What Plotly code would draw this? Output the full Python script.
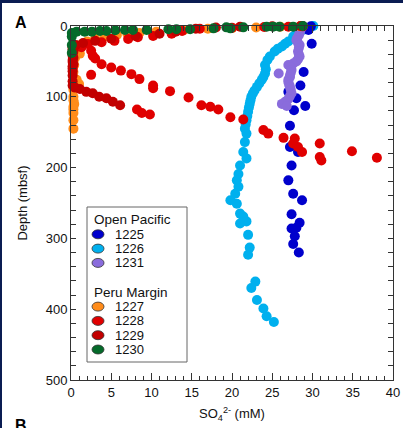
import plotly.graph_objects as go

# ---------------- data (SO4 mM, depth mbsf) ----------------
names = ["1225", "1226", "1231", "1227", "1228", "1229", "1230"]
groups = ["Open Pacific", "Open Pacific", "Open Pacific",
          "Peru Margin", "Peru Margin", "Peru Margin", "Peru Margin"]
colors = ["#0000cc", "#00b0ee", "#8a6cdc", "#ff8c1a", "#e00000", "#c20000", "#056a2a"]

so4_1225 = [29.8, 29.5, 29.9, 28.9, 28.5, 27.0, 28.0, 29.1, 27.7, 27.2, 27.2, 28.2,
            27.4, 27.0, 27.6, 28.7, 27.4, 28.4, 28.0, 27.4, 27.8, 27.6, 28.3]
dep_1225 = [0.5, 5.7, 25, 65, 84, 93, 102, 113, 119, 141, 171, 178,
            197, 218, 237, 246, 266, 278, 285, 286, 297, 308, 320]

so4_1226 = [30.1, 29.5, 29.0, 28.4, 28.0, 27.6, 27.0, 26.6, 26.2, 25.7, 25.3, 24.7,
            24.4, 24.1, 24.2, 24.1, 23.9, 23.7, 23.4, 23.1, 22.8, 22.6, 22.4, 22.3,
            22.2, 22.1, 22.0, 21.9, 21.8, 21.7, 21.6, 21.8, 21.6, 21.4, 21.8, 21.0,
            20.8, 20.6, 20.8, 20.4, 19.8, 20.6, 21.0, 21.4, 21.8, 21.0, 22.0, 22.2,
            22.0, 22.9, 22.4, 23.1, 23.9, 24.3, 25.2]
dep_1226 = [0, 3, 5, 8, 11, 15, 22, 25, 29, 32, 36, 43,
            48, 55, 61, 67, 72, 76, 81, 86, 91, 95, 100, 105,
            110, 115, 121, 127, 133, 139, 145, 152, 164, 178, 187, 197,
            209, 218, 227, 237, 246, 251, 265, 269, 276, 279, 295, 313,
            323, 361, 370, 387, 399, 410, 418]

so4_1231 = [28.8, 28.6, 28.5, 28.4, 28.3, 28.1, 28.0, 28.2, 28.4, 28.3, 28.2, 28.3,
            28.4, 28.2, 28.0, 27.6, 27.0, 27.3, 27.4, 27.3, 27.2, 27.2, 27.0, 27.0,
            27.1, 27.2, 27.3, 27.4, 27.2, 27.0, 26.6, 26.2, 26.8, 25.8]
dep_1231 = [0, 3, 6, 10, 13, 17, 20, 24, 27, 31, 36, 40,
            43, 47, 50, 53, 55, 58, 62, 66, 70, 72, 76, 79,
            83, 86, 90, 95, 99, 103, 107, 110, 113, 67]

so4_1227 = [28.5, 26.0, 23.0, 20.0, 17.0, 14.0, 10.6, 8.5, 7.0, 5.7, 4.2, 3.0,
            2.0, 1.3, 0.9, 1.1, 0.7, 0.5, 0.4, 0.3, 0.7, 1.0, 0.3, 0.3,
            0.3, 0.4, 0.3, 0.3, 0.3, 0.3, 0.3]
dep_1227 = [0.5, 1, 2, 3, 4, 6, 8, 10, 11, 12.7, 15, 18,
            22, 26, 30, 39, 36, 45, 55, 65, 76, 82, 90, 100,
            105, 110, 114, 118, 123, 133, 145]

so4_1228 = [28.8, 27.0, 24.0, 20.0, 16.0, 13.8, 12.5, 10.2, 8.3, 7.1, 5.4, 3.8,
            2.1, 1.3, 2.5, 2.7, 3.0, 3.8, 5.0, 6.2, 7.5, 8.5, 10.2, 10.2,
            12.3, 14.6, 16.2, 17.3, 18.3, 19.8, 21.4, 23.9, 24.5, 26.4, 27.8, 27.6,
            28.2, 28.7, 30.9, 30.9, 31.1, 34.9, 38.0, 2.5, 8.2, 8.8, 9.8]
dep_1228 = [0.5, 1, 1.5, 2.5, 4, 7, 11, 14, 16, 18.4, 21, 23,
            25.5, 30, 35, 42, 46, 54, 58.6, 63, 68, 75, 84, 88,
            92, 101, 112, 114, 118, 129, 132, 147, 152, 158, 159, 166,
            171, 178, 166, 185, 190, 177, 186, 69, 118, 123, 125]

so4_1229 = [28.5, 25.0, 21.0, 18.0, 15.5, 13.0, 11.0, 8.0, 5.0, 3.0, 1.5, 0.6,
            0.2, 0.2, 0.3, 0.2, 0.2, 0.3, 0.2, 0.2, 0.3, 0.2, 0.2, 0.2,
            0.2, 0.2, 0.2, 0.5, 1.1, 1.9, 2.7, 3.5, 4.4, 5.2, 6.1]
dep_1229 = [0, 0.5, 1, 2, 4, 8, 11, 14, 18, 21, 24, 27,
            30, 33, 36, 39, 42, 45, 48, 51, 54, 57, 60, 64,
            70, 78, 84, 87, 89, 93, 95, 100, 102, 107, 112]

so4_1230 = [0.1, 0.1, 0.1, 0.1, 0.7, 1.7, 2.6, 3.6, 4.4, 5.5, 6.7, 7.7,
            9.4, 12.1, 13.1, 14.8, 17.7, 19.3, 19.8, 21.4, 24.3, 25.1, 25.9, 27.6, 28.8]
dep_1230 = [38, 27, 15, 10, 8, 8, 8, 7, 7, 6, 5.7, 5.7,
            5.7, 4.7, 4.7, 4.7, 3.3, 1.9, 3.3, 1.9, 0.9, 0.9, 0.9, 0.9, 0]

series_x = [so4_1225, so4_1226, so4_1231, so4_1227, so4_1228, so4_1229, so4_1230]
series_y = [dep_1225, dep_1226, dep_1231, dep_1227, dep_1228, dep_1229, dep_1230]

x_ticks = [0, 5, 10, 15, 20, 25, 30, 35, 40]
y_ticks = [0, 100, 200, 300, 400, 500]

# ---------------- figure ----------------
W, H = 403, 428
L, R, T, B = 71, 10, 26, 48
PW, PH = W - L - R, H - T - B
FONT = "Liberation Sans, Arial, Helvetica, sans-serif"
NAVY = "#0a1c52"


def px2x(px):
    return (px - L) / PW


def py2y(py):
    return (T + PH - py) / PH


fig = go.Figure()
draw_order = [1, 0, 2, 3, 4, 5, 6]
for i in draw_order:
    fig.add_trace(go.Scatter(
        x=series_x[i], y=series_y[i], mode="markers", name=names[i],
        marker=dict(size=10, color=colors[i], line=dict(width=0)),
        cliponaxis=False, showlegend=False,
    ))

axis_common = dict(
    showgrid=False, zeroline=False, showline=True, linecolor="#333333", linewidth=1,
    mirror="allticks", ticks="inside", tickcolor="#333333", tickwidth=1,
    tickfont=dict(family=FONT, size=13, color="#111111"),
)

fig.update_xaxes(
    range=[0, 40], tickvals=x_ticks, ticklen=7,
    minor=dict(dtick=1, ticklen=4.5, ticks="inside", tickcolor="#333333"),
    title=dict(text="SO<sub>4</sub><sup>2-</sup> (mM)", standoff=10,
               font=dict(family=FONT, size=13, color="#111111")),
    **axis_common,
)
fig.update_yaxes(
    range=[500, 0], tickvals=y_ticks, ticklen=5,
    minor=dict(dtick=20, ticklen=5, ticks="inside", tickcolor="#333333"),
    title=dict(text="Depth (mbsf)", standoff=15,
               font=dict(family=FONT, size=13, color="#111111")),
    **axis_common,
)

shapes = [
    # white panel over navy page
    dict(type="rect", xref="paper", yref="paper", layer="below",
         x0=px2x(2), x1=px2x(W + 10), y0=py2y(H + 10), y1=py2y(3),
         fillcolor="white", line=dict(width=0)),
    # legend frame
    dict(type="rect", xref="paper", yref="paper",
         x0=px2x(87), x1=px2x(187), y0=py2y(362), y1=py2y(207),
         fillcolor="white", line=dict(color="#666666", width=1), layer="above"),
]
annotations = [
    dict(text="<b>A</b>", x=px2x(13), y=py2y(12), xref="paper", yref="paper",
         xanchor="left", yanchor="top", showarrow=False,
         font=dict(family=FONT, size=16, color="black")),
    dict(text="<b>B</b>", x=px2x(13), y=py2y(415), xref="paper", yref="paper",
         xanchor="left", yanchor="top", showarrow=False,
         font=dict(family=FONT, size=16, color="black")),
]

# legend built from the series arrays
row_y = {"Open Pacific": 220.0, "Peru Margin": 292.3}
step = 14.3
seen = {}
for i, nm in enumerate(names):
    g = groups[i]
    k = seen.get(g, 0)
    if k == 0:
        annotations.append(dict(text=g, x=px2x(92), y=py2y(row_y[g]), xref="paper",
                                yref="paper", xanchor="left", yanchor="middle",
                                showarrow=False,
                                font=dict(family=FONT, size=13.5, color="#111111")))
    yy = row_y[g] + step * (k + 1)
    seen[g] = k + 1
    shapes.append(dict(type="circle", xref="paper", yref="paper", layer="above",
                       x0=px2x(92), x1=px2x(104), y0=py2y(yy + 4.5), y1=py2y(yy - 4.5),
                       fillcolor=colors[i], line=dict(color="#333333", width=0.8)))
    annotations.append(dict(text=nm, x=px2x(113), y=py2y(yy), xref="paper", yref="paper",
                            xanchor="left", yanchor="middle", showarrow=False,
                            font=dict(family=FONT, size=13, color="#111111")))

fig.update_layout(
    width=W, height=H, margin=dict(l=L, r=R, t=T, b=B, autoexpand=False),
    paper_bgcolor=NAVY, plot_bgcolor="white",
    shapes=shapes, annotations=annotations, showlegend=False,
    font=dict(family=FONT, size=13, color="#111111"),
)

fig.write_html("out.html",
               config={"displayModeBar": False},
               post_script="document.body.style.margin='0';"
                           "document.body.style.overflow='hidden';")
